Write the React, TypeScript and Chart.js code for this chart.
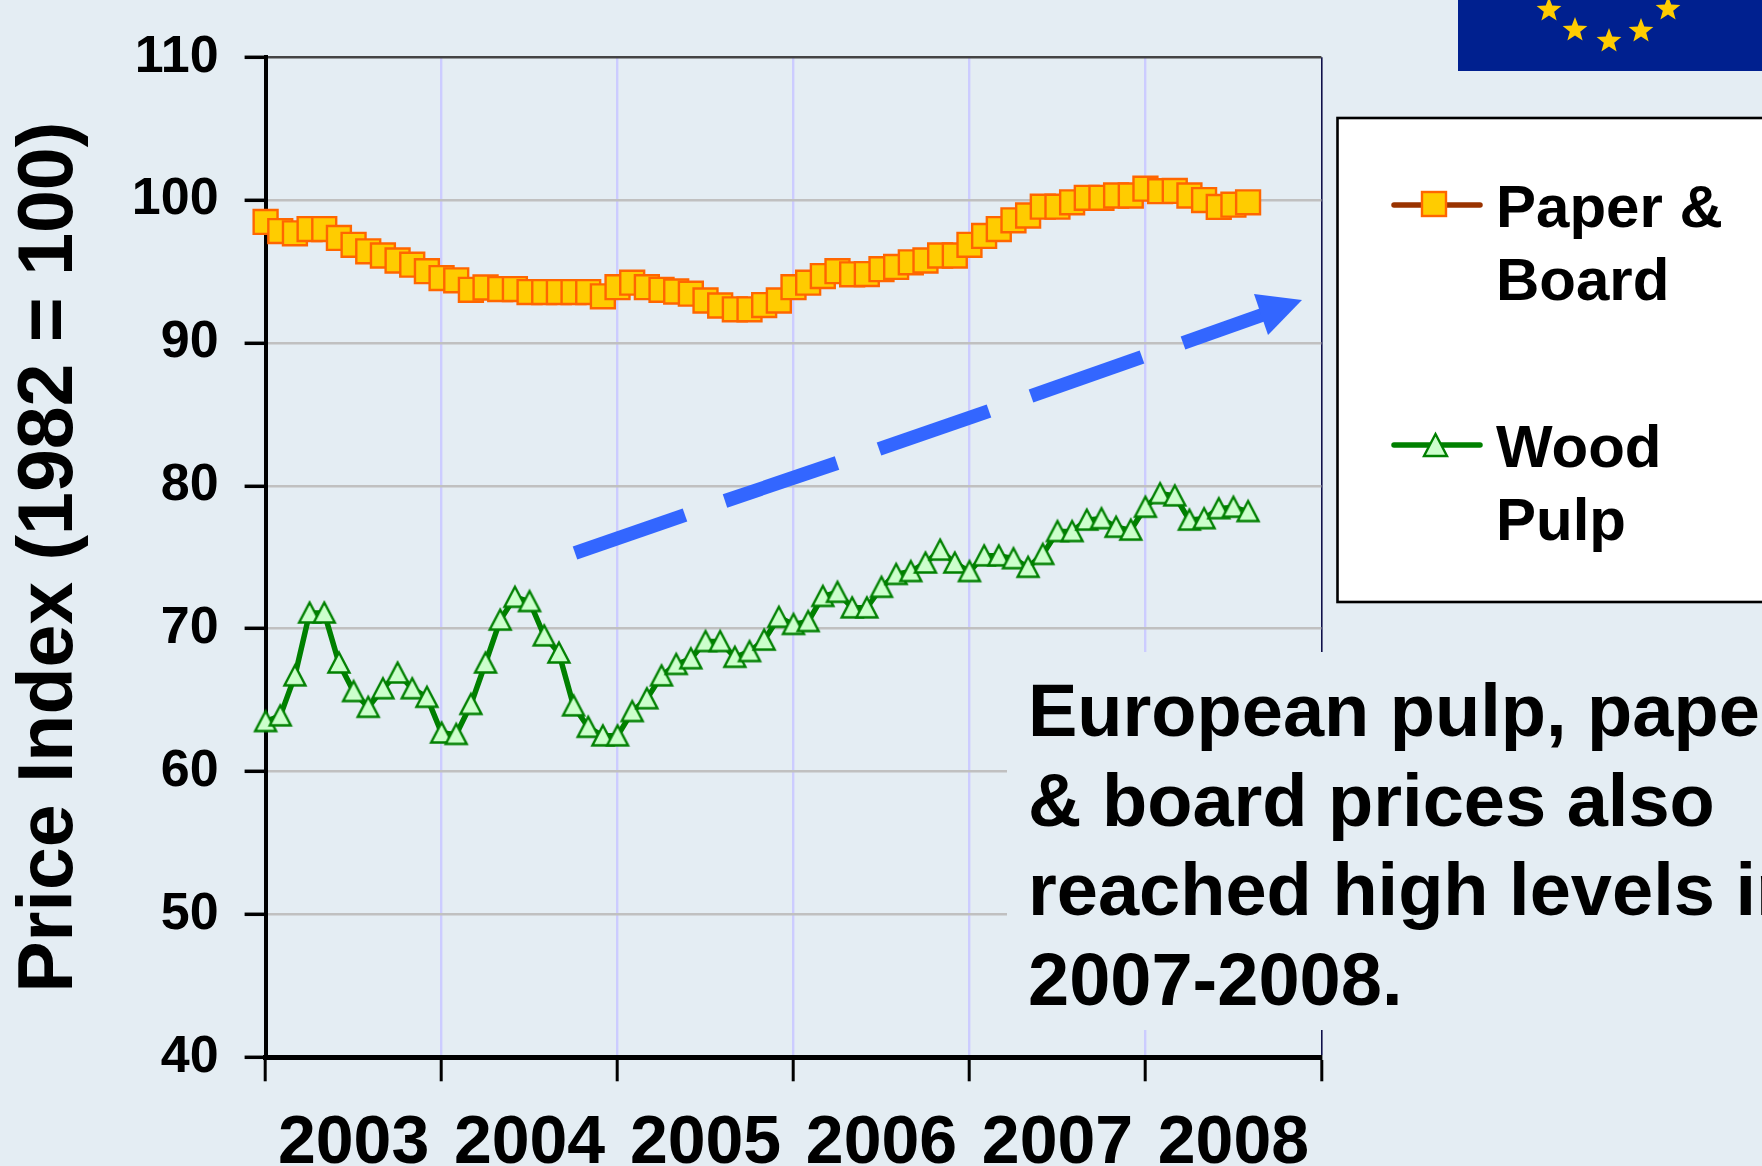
import React, { useEffect, useRef } from "react";
import { Chart, registerables } from "chart.js";

Chart.register(...registerables);

const FONT = '"Liberation Sans", Arial, sans-serif';
const BG = "#E4EDF3";

const years = ["2003", "2004", "2005", "2006", "2007", "2008"];
const yAxisTitle = "Price Index (1982 = 100)";

const paperBoard = [
  98.47, 97.83, 97.67, 97.97, 97.97, 97.35, 96.87, 96.41, 96.12, 95.77, 95.48, 95.02,
  94.54, 94.38, 93.72, 93.88, 93.77, 93.77, 93.56, 93.56, 93.56, 93.56, 93.56, 93.26,
  93.9, 94.22, 93.9, 93.72, 93.6, 93.45, 92.97, 92.62, 92.35, 92.35, 92.65, 92.97,
  93.9, 94.22, 94.68, 95.02, 94.8, 94.82, 95.16, 95.32, 95.64, 95.77, 96.12, 96.12,
  96.87, 97.49, 97.97, 98.58, 98.92, 99.54, 99.54, 99.84, 100.16, 100.16, 100.32, 100.32,
  100.8, 100.62, 100.64, 100.32, 100.0, 99.52, 99.68, 99.84,
];

const woodPulp = [
  63.5, 63.9, 66.7, 71.1, 71.1, 67.6, 65.6, 64.5, 65.8, 66.9, 65.8, 65.2,
  62.7, 62.6, 64.7, 67.6, 70.6, 72.2, 71.9, 69.5, 68.3, 64.6, 63.1, 62.5,
  62.5, 64.2, 65.1, 66.7, 67.5, 67.9, 69.1, 69.1, 68.0, 68.4, 69.2, 70.8,
  70.3, 70.5, 72.26, 72.55, 71.46, 71.46, 72.9, 73.8, 74.0, 74.6, 75.5, 74.6,
  74.0, 75.1, 75.1, 74.9, 74.3, 75.2, 76.8, 76.8, 77.6, 77.7, 77.1, 76.9,
  78.5, 79.45, 79.3, 77.6, 77.7, 78.4, 78.5, 78.2,
];

const legendPaper = ["Paper &", "Board"];
const legendWood = ["Wood", "Pulp"];
const noteLines = [
  "European pulp, paper",
  "& board prices also",
  "reached high levels in",
  "2007-2008.",
];

const arrowDashes = [
  [575, 553, 685, 515],
  [725, 501, 837, 463],
  [879, 449, 989, 411],
  [1031, 396, 1142, 357],
  [1183, 343, 1262, 315],
];
const flagStars = [
  [1549, 10],
  [1575, 30],
  [1609, 41],
  [1641, 31],
  [1668, 9],
];

function starPoints(cx: number, cy: number, r: number) {
  const pts: string[] = [];
  for (let i = 0; i < 10; i++) {
    const rad = i % 2 === 0 ? r : r * 0.42;
    const a = -Math.PI / 2 + (i * Math.PI) / 5;
    pts.push(`${cx + rad * Math.cos(a)},${cy + rad * Math.sin(a)}`);
  }
  return pts.join(" ");
}

function triangleImage() {
  const c = document.createElement("canvas");
  c.width = 32;
  c.height = 32;
  const g = c.getContext("2d")!;
  g.beginPath();
  g.moveTo(16, 5.5);
  g.lineTo(26.5, 25.5);
  g.lineTo(5.5, 25.5);
  g.closePath();
  g.fillStyle = "#CCFFCC";
  g.fill();
  g.lineWidth = 2.4;
  g.lineJoin = "miter";
  g.strokeStyle = "#008000";
  g.stroke();
  return c;
}

export default function App() {
  const ref = useRef<HTMLCanvasElement>(null);
  useEffect(() => {
    const tri = triangleImage();
    const chart = new Chart(ref.current!, {
      type: "line",
      data: {
        datasets: [
          {
            label: "Paper & Board",
            data: paperBoard.map((y, x) => ({ x, y })),
            borderColor: "#993300",
            borderWidth: 5,
            pointStyle: "rect",
            pointRadius: 16.9,
            pointBackgroundColor: "#FFCC00",
            pointBorderColor: "#FF6600",
            pointBorderWidth: 2.4,
            tension: 0,
            clip: false,
            xAxisID: "x",
          },
          {
            label: "Wood Pulp",
            data: woodPulp.map((y, x) => ({ x, y })),
            borderColor: "#008000",
            borderWidth: 5.5,
            pointStyle: tri as any,
            pointRadius: 12,
            tension: 0,
            clip: false,
            xAxisID: "x",
          },
        ],
      },
      options: {
        animation: false,
        responsive: false,
        maintainAspectRatio: false,
        layout: { padding: { left: 0, top: 35.3, right: 440.6, bottom: 0 } },
        plugins: { legend: { display: false }, tooltip: { enabled: false } },
        scales: {
          x: {
            type: "linear",
            position: "bottom",
            min: 0,
            max: 72,
            afterFit: (s: any) => {
              s.height = 24;
            },
            ticks: { display: false, stepSize: 12 },
            border: { color: "#000000", width: 5 },
            grid: {
              color: (c: any) => (c.tick.value === 72 ? "#10104A" : "#CCCCFF"),
              lineWidth: (c: any) => (c.tick.value === 72 ? 1.6 : 2.4),
              tickColor: "#000000",
              tickWidth: 3,
              tickLength: 24,
            },
          },
          xYears: {
            type: "linear",
            position: "bottom",
            min: 0,
            max: 72,
            afterBuildTicks: (s: any) => {
              s.ticks = years.map((_, i) => ({ value: i * 12 + 6 }));
            },
            afterFit: (s: any) => {
              s.height = 84.7;
            },
            ticks: {
              autoSkip: false,
              maxRotation: 0,
              color: "#000000",
              padding: 14,
              font: { family: FONT, size: 68, weight: "bold" },
              callback: (v: any) => years[(Number(v) - 6) / 12],
            },
            border: { display: false },
            grid: { display: false },
          },
          y: {
            min: 40,
            max: 110,
            afterFit: (s: any) => {
              s.width = 265.6;
            },
            title: {
              display: true,
              text: yAxisTitle,
              color: "#000000",
              padding: { top: 12, bottom: 0 },
              font: { family: FONT, size: 77, weight: "bold", lineHeight: 1 },
            },
            ticks: {
              stepSize: 10,
              color: "#000000",
              padding: 26,
              font: { family: FONT, size: 52, weight: "bold" },
            },
            border: { color: "#000000", width: 4 },
            grid: {
              color: (c: any) => (c.tick.value === 110 ? "#444444" : "#C0C0C0"),
              lineWidth: 2.6,
              tickColor: "#000000",
              tickWidth: 3.5,
              tickLength: 21,
            },
          },
        },
      },
    } as any);
    return () => chart.destroy();
  }, []);

  const textStyle = { fontFamily: FONT, fontWeight: 700, fill: "#000000" } as const;

  return (
    <div
      style={{
        position: "absolute",
        left: 0,
        top: 0,
        width: 1762,
        height: 1166,
        overflow: "hidden",
        background: BG,
      }}
    >
      <canvas
        ref={ref}
        width={1762}
        height={1166}
        style={{ position: "absolute", left: 0, top: 0, width: 1762, height: 1166 }}
      />
      <svg
        width={1762}
        height={1166}
        style={{ position: "absolute", left: 0, top: 0 }}
      >
        <rect x={1458} y={-2} width={320} height={73} fill="#00208F" />
        {flagStars.map(([x, y], i) => (
          <polygon key={i} points={starPoints(x, y, 13)} fill="#FFCC00" />
        ))}

        {arrowDashes.map(([x1, y1, x2, y2], i) => (
          <line key={i} x1={x1} y1={y1} x2={x2} y2={y2} stroke="#3366FF" strokeWidth={14} />
        ))}
        <polygon points="1302,300 1254,294 1268,335" fill="#3366FF" />

        <rect x={1007} y={652} width={770} height={378} fill={BG} />
        {noteLines.map((t, i) => (
          <text key={i} x={1028} y={736 + i * 89.5} fontSize={74} style={textStyle}>
            {t}
          </text>
        ))}

        <rect x={1337.5} y={118} width={440} height={484} fill="#FFFFFF" stroke="#000000" strokeWidth={2.6} />
        <line x1={1394} y1={205} x2={1480} y2={205} stroke="#993300" strokeWidth={5.5} strokeLinecap="round" />
        <rect x={1422} y={192} width={24} height={24} fill="#FFCC00" stroke="#FF6600" strokeWidth={2.4} />
        <line x1={1394} y1={445} x2={1480} y2={445} stroke="#008000" strokeWidth={5.5} strokeLinecap="round" />
        <polygon points="1435.5,434 1447,456 1424,456" fill="#CCFFCC" stroke="#008000" strokeWidth={2.4} />
        {legendPaper.map((t, i) => (
          <text key={t} x={1496} y={227 + i * 73} fontSize={60} style={textStyle}>
            {t}
          </text>
        ))}
        {legendWood.map((t, i) => (
          <text key={t} x={1496} y={467 + i * 73} fontSize={60} style={textStyle}>
            {t}
          </text>
        ))}
      </svg>
    </div>
  );
}
